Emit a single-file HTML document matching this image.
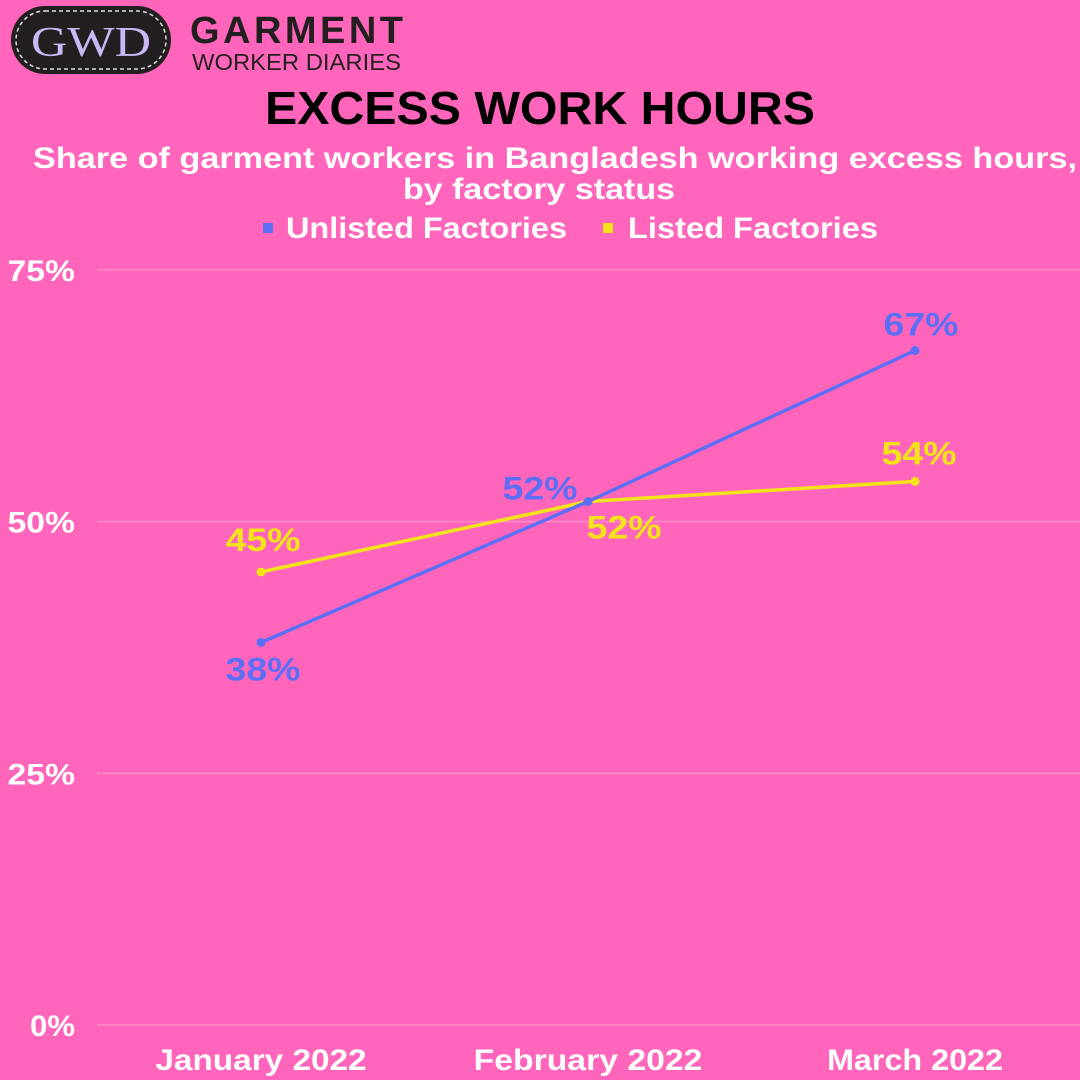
<!DOCTYPE html>
<html><head><meta charset="utf-8"><style>
html,body{margin:0;padding:0;background:#FF66BB;}
svg{display:block;font-family:"Liberation Sans",sans-serif;}
</style></head><body>
<svg width="1080" height="1080" viewBox="0 0 1080 1080">
<rect width="1080" height="1080" fill="#FF66BB"/>
<g>
<rect x="11" y="6" width="160" height="68" rx="34" fill="#231f20"/>
<rect x="16" y="11" width="150" height="58" rx="29" fill="none" stroke="#ddd" stroke-width="1.5" stroke-dasharray="4 3"/>
<text x="91" y="56" text-anchor="middle" font-family="Liberation Serif,serif" font-size="42" fill="#c9b8f5" textLength="120" lengthAdjust="spacingAndGlyphs">GWD</text>
<text x="190" y="43" font-size="38" font-weight="bold" fill="#231f20" textLength="213" lengthAdjust="spacing">GARMENT</text>
<text x="192" y="70" font-size="23" fill="#231f20" textLength="209" lengthAdjust="spacingAndGlyphs">WORKER DIARIES</text>
</g>
<text x="265" y="124" font-size="46" font-weight="bold" fill="#000" textLength="550" lengthAdjust="spacingAndGlyphs">EXCESS WORK HOURS</text>
<text x="33" y="168" font-size="30" font-weight="bold" fill="#fff" textLength="1044" lengthAdjust="spacingAndGlyphs">Share of garment workers in Bangladesh working excess hours,</text>
<text x="403" y="199" font-size="30" font-weight="bold" fill="#fff" textLength="272" lengthAdjust="spacingAndGlyphs">by factory status</text>
<g>
<rect x="263" y="223" width="10" height="10" fill="#5B6EF5"/>
<text x="286" y="238" font-size="30" font-weight="bold" fill="#fff" textLength="281" lengthAdjust="spacingAndGlyphs">Unlisted Factories</text>
<rect x="603" y="223" width="10" height="10" fill="#F2E31A"/>
<text x="628" y="238" font-size="30" font-weight="bold" fill="#fff" textLength="250" lengthAdjust="spacingAndGlyphs">Listed Factories</text>
</g>
<g id="grid"></g><g id="series"></g><g id="labels"></g>
</svg>
<script>
const categories=["January 2022","February 2022","March 2022"];
const unlisted=[38,52,67];
const listed=[45,52,54];
const yTicks=[0,25,50,75];
const yTickLabels=["0%","25%","50%","75%"];
const NS="http://www.w3.org/2000/svg";
function y(v){return 1025-(v/75)*(1025-270);}
function x(i){return 261+i*327;}
function mk(tag,attrs,parent){const e=document.createElementNS(NS,tag);for(const k in attrs)e.setAttribute(k,attrs[k]);parent.appendChild(e);return e;}
const grid=document.getElementById('grid'),ser=document.getElementById('series'),lab=document.getElementById('labels');
yTicks.forEach((t,i)=>{
 const l=mk('line',{x1:97,x2:1080,y1:y(t),y2:y(t),stroke:'#ff8cc9','stroke-width':1.5},grid);
 
 
 const s=yTickLabels[i];
 const tx=mk('text',{x:75,y:y(t)+11,'text-anchor':'end','font-size':30,'font-weight':'bold',fill:'#fff',textLength:s.length*22.5,lengthAdjust:'spacingAndGlyphs'},grid);
 tx.textContent=s;
 
 
});
categories.forEach((c,i)=>{
 const tx=mk('text',{x:x(i),y:1070,'text-anchor':'middle','font-size':30,'font-weight':'bold',fill:'#fff',textLength:c.length*17.6,lengthAdjust:'spacingAndGlyphs'},grid);
 tx.textContent=c;
 
 
});
function draw(vals,color,name,offs){
 const p=mk('polyline',{points:vals.map((v,i)=>x(i)+','+y(v)).join(' '),fill:'none',stroke:color,'stroke-width':3.5},ser);
 
 
 vals.forEach((v,i)=>{
  const c=mk('circle',{cx:x(i),cy:y(v),r:4.5,fill:color},ser);
  
  
  const t=mk('text',{x:x(i)+offs[i][0],y:y(v)+offs[i][1],'text-anchor':'middle','font-size':32,'font-weight':'bold',fill:color,textLength:75,lengthAdjust:'spacingAndGlyphs'},lab);
  t.textContent=v+'%';
  
  
 });
}
draw(listed,'#F2E31A','listed',[[2,-21],[36,37],[4,-17]]);
draw(unlisted,'#5B6EF5','unlisted',[[2,38],[-48,-2],[6,-15]]);
</script>
</body></html>
